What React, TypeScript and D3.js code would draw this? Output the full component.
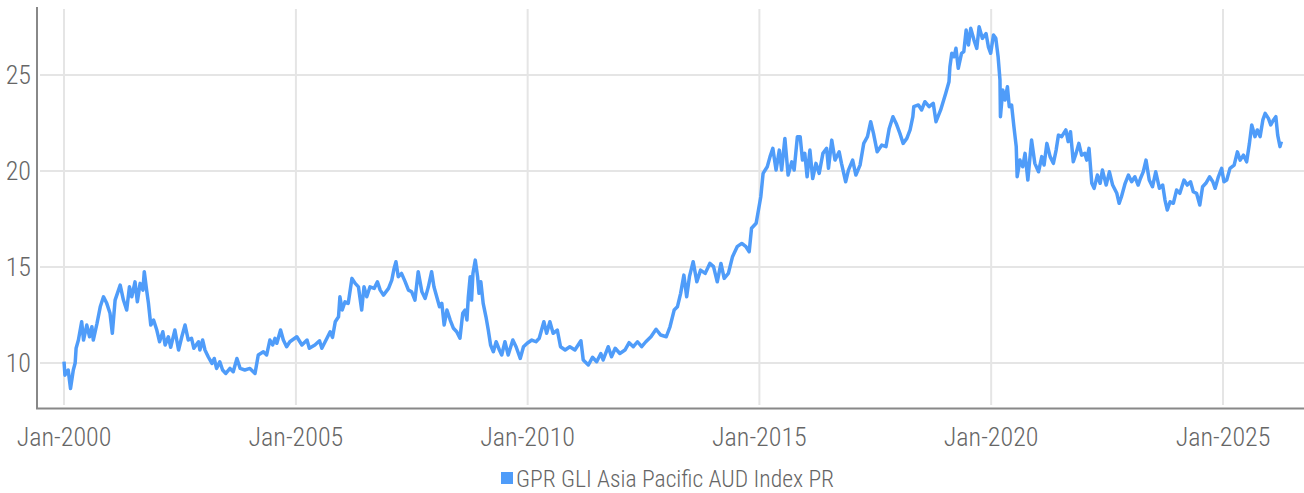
import React from "react";
import * as d3 from "d3";

// Decimal year, index value
const years2000s: number[] = [2000.0,2000.02,2000.09,2000.14,2000.2,2000.24,2000.26,2000.31,2000.38,2000.42,2000.49,2000.55,2000.6,2000.63,2000.71,2000.78,2000.85,2000.92,2000.99,2001.04,2001.1,2001.21,2001.28,2001.35,2001.41,2001.46,2001.53,2001.58,2001.64,2001.7,2001.73,2001.78,2001.82,2001.87,2001.93,2002.0,2002.06,2002.13,2002.18,2002.25,2002.3,2002.39,2002.47,2002.54,2002.61,2002.68,2002.75,2002.8,2002.9,2002.93,2002.99,2003.04,2003.11,2003.19,2003.24,2003.29,2003.36,2003.42,2003.49,2003.58,2003.65,2003.73,2003.8,2003.9,2004.01,2004.12,2004.19,2004.3,2004.37,2004.44,2004.5,2004.55,2004.59,2004.67,2004.73,2004.8,2004.87,2005.02];
const values2000s: number[] = [10.07,9.37,9.64,8.68,9.64,10.0,10.77,11.2,12.15,11.2,11.98,11.37,11.89,11.2,12.07,12.93,13.45,13.11,12.59,11.55,13.28,14.06,13.28,12.76,13.97,13.45,14.23,13.19,14.15,13.8,14.76,13.8,13.11,11.98,12.24,11.72,11.11,11.63,10.94,11.37,10.82,11.72,10.68,11.37,11.98,11.2,11.29,10.77,11.11,10.68,11.2,10.68,10.33,9.98,10.24,9.72,10.07,9.64,9.46,9.72,9.55,10.24,9.72,9.64,9.72,9.46,10.42,10.59,10.42,11.2,10.94,11.29,11.03,11.72,11.2,10.85,11.11,11.37];

const years2005s: number[] = [2005.13,2005.24,2005.29,2005.41,2005.51,2005.56,2005.67,2005.74,2005.79,2005.85,2005.92,2005.95,2006.0,2006.06,2006.13,2006.21,2006.28,2006.35,2006.42,2006.47,2006.53,2006.6,2006.69,2006.76,2006.82,2006.89,2007.0,2007.07,2007.12,2007.16,2007.21,2007.28,2007.36,2007.43,2007.5,2007.57,2007.64,2007.72,2007.79,2007.86,2007.93,2007.98,2008.04,2008.1,2008.15,2008.2,2008.26,2008.33,2008.4,2008.47,2008.54,2008.6,2008.65,2008.69,2008.72,2008.76,2008.79,2008.82,2008.87,2008.92,2008.95,2008.99,2009.04,2009.1,2009.15,2009.2,2009.26,2009.32,2009.39,2009.44,2009.51,2009.58,2009.68,2009.75,2009.84,2009.91,2009.99];
const values2005s: number[] = [10.94,11.2,10.77,10.94,11.16,10.77,11.29,11.63,11.34,12.15,12.41,13.45,12.76,13.19,13.11,14.41,14.15,13.97,12.76,13.97,13.45,13.97,13.89,14.23,13.8,13.54,13.89,14.32,14.93,15.28,14.5,14.67,14.23,13.8,13.71,13.28,14.76,13.71,13.37,13.97,14.76,13.97,13.45,12.93,13.11,11.98,12.76,12.24,11.81,11.63,11.29,12.59,12.76,12.24,13.45,14.5,13.28,14.67,15.36,14.5,13.63,14.23,13.11,12.41,11.72,10.94,10.59,11.11,10.68,10.42,11.11,10.42,11.2,10.85,10.24,10.85,11.03];

const years2010s: number[] = [2010.09,2010.18,2010.25,2010.35,2010.41,2010.48,2010.55,2010.64,2010.71,2010.81,2010.91,2011.02,2011.15,2011.2,2011.31,2011.4,2011.49,2011.58,2011.63,2011.74,2011.81,2011.89,2011.99,2012.1,2012.19,2012.28,2012.37,2012.46,2012.55,2012.66,2012.77,2012.87,2012.99,2013.07,2013.16,2013.23,2013.3,2013.37,2013.43,2013.49,2013.57,2013.65,2013.73,2013.83,2013.93,2014.01,2014.09,2014.17,2014.24,2014.33,2014.42,2014.52,2014.62,2014.71,2014.78,2014.83,2014.93,2014.98];
const values2010s: number[] = [11.2,11.11,11.29,12.15,11.55,12.15,11.55,11.72,10.85,10.68,10.85,10.68,11.16,10.16,9.9,10.3,10.07,10.5,10.16,10.85,10.33,10.77,10.5,10.68,11.06,10.85,11.11,10.85,11.11,11.37,11.76,11.46,11.37,11.89,12.76,12.93,13.63,14.58,13.45,14.5,15.28,14.23,14.84,14.67,15.19,15.02,14.23,15.19,14.41,14.67,15.54,16.06,16.23,16.06,15.8,17.02,17.28,17.97];

const years2015s: number[] = [2015.03,2015.08,2015.17,2015.23,2015.29,2015.36,2015.43,2015.48,2015.55,2015.62,2015.7,2015.75,2015.82,2015.88,2015.93,2015.98,2016.03,2016.09,2016.15,2016.22,2016.29,2016.37,2016.45,2016.49,2016.56,2016.63,2016.72,2016.77,2016.86,2016.92,2017.01,2017.08,2017.17,2017.25,2017.33,2017.4,2017.46,2017.54,2017.64,2017.73,2017.8,2017.88,2017.95,2018.03,2018.1,2018.18,2018.25,2018.31,2018.33,2018.43,2018.5,2018.57,2018.66,2018.75,2018.81,2018.91,2019.02,2019.09,2019.11,2019.15,2019.2,2019.24,2019.29,2019.36,2019.41,2019.46,2019.51,2019.56,2019.63,2019.69,2019.74,2019.81,2019.89,2019.94,2019.99];
const values2015s: number[] = [18.66,19.88,20.22,20.75,21.18,20.05,21.09,20.05,21.7,19.79,20.48,20.05,21.79,21.79,20.57,20.92,19.7,21.09,19.61,20.4,19.88,20.92,21.18,20.14,21.61,20.57,21.0,20.4,19.44,20.05,20.57,19.79,20.31,21.44,21.79,22.57,21.96,21.0,21.35,21.27,22.22,22.83,22.48,21.96,21.44,21.7,22.14,22.83,23.35,23.44,23.18,23.61,23.35,23.53,22.57,23.18,24.05,24.65,25.43,26.13,25.95,26.39,25.35,26.13,26.22,27.34,26.56,27.43,26.82,26.39,27.51,26.91,27.16,26.47,26.13];

const years2020s: number[] = [2020.05,2020.1,2020.15,2020.19,2020.2,2020.25,2020.3,2020.35,2020.39,2020.44,2020.49,2020.54,2020.56,2020.62,2020.68,2020.73,2020.79,2020.87,2020.94,2021.02,2021.09,2021.14,2021.2,2021.27,2021.34,2021.4,2021.45,2021.52,2021.61,2021.66,2021.71,2021.77,2021.83,2021.89,2021.95,2022.02,2022.06,2022.11,2022.17,2022.22,2022.29,2022.35,2022.4,2022.48,2022.55,2022.62,2022.71,2022.76,2022.81,2022.89,2022.96,2023.03,2023.1,2023.17,2023.22,2023.28,2023.34,2023.41,2023.48,2023.55,2023.63,2023.7,2023.75,2023.8,2023.86,2023.93,2024.0,2024.07,2024.16,2024.23,2024.3,2024.36,2024.43,2024.5,2024.56,2024.63,2024.71,2024.78,2024.83,2024.9,2024.97];
const values2020s: number[] = [27.08,26.91,25.95,24.74,22.83,24.22,23.7,24.39,23.35,23.44,22.31,21.27,19.7,20.57,20.22,20.92,19.53,21.61,20.4,19.96,20.75,20.31,21.44,20.75,20.4,21.09,21.87,21.79,22.14,21.53,22.05,20.48,20.92,21.44,20.83,20.92,20.57,21.18,19.36,19.1,19.79,19.36,20.05,19.27,19.96,19.27,18.84,18.32,18.66,19.36,19.79,19.44,19.7,19.27,19.61,19.96,20.57,19.53,19.18,19.96,19.1,19.27,18.49,17.97,18.4,18.32,19.01,18.84,19.53,19.27,19.44,18.92,18.84,18.23,19.18,19.36,19.7,19.44,19.1,19.7,20.14];

const years2025s: number[] = [2025.02,2025.08,2025.15,2025.24,2025.31,2025.37,2025.44,2025.51,2025.57,2025.62,2025.69,2025.74,2025.8,2025.86,2025.91,2025.98,2026.03,2026.09,2026.14,2026.18,2026.23,2026.26];
const values2025s: number[] = [19.44,19.53,20.14,20.31,21.0,20.57,20.83,20.48,21.44,22.4,21.79,22.14,21.79,22.66,23.0,22.74,22.4,22.66,22.83,21.87,21.27,21.53];

const yTicks: number[] = [10, 15, 20, 25];
const xTickYears: number[] = [2000, 2005, 2010, 2015, 2020, 2025];
const seriesName = "GPR GLI Asia Pacific AUD Index PR";

const toDate = (y: number) => {
  const yr = Math.floor(y);
  const start = Date.UTC(yr, 0, 1);
  const end = Date.UTC(yr + 1, 0, 1);
  return new Date(start + (y - yr) * (end - start));
};

const allYears = [...years2000s, ...years2005s, ...years2010s, ...years2015s, ...years2020s, ...years2025s];
const allValues = [...values2000s, ...values2005s, ...values2010s, ...values2015s, ...values2020s, ...values2025s];
const data = allYears.map((y, i) => ({ date: toDate(y), value: allValues[i] }));

const W = 1304, H = 493;
const FONT = "'Roboto Condensed', 'Liberation Sans Narrow', 'DejaVu Sans Condensed', Roboto, sans-serif";

export default function App() {
  const x = d3.scaleUtc()
    .domain([new Date(Date.UTC(1999, 5, 10)), new Date(Date.UTC(2026, 9, 1))])
    .range([38, 1304]);
  const y = d3.scaleLinear().domain([7.66, 28.49]).range([408, 8]);
  const line = d3.line<{ date: Date; value: number }>()
    .x(d => x(d.date))
    .y(d => y(d.value));
  const fmt = d3.utcFormat("%b-%Y");

  return (
    <svg width={W} height={H} style={{ position: "absolute", left: 0, top: 0 }} fontFamily={FONT}>
      <rect width={W} height={H} fill="#fff" />
      {yTicks.map(t => (
        <line key={"hy" + t} x1={40} x2={1304} y1={y(t)} y2={y(t)} stroke="#e5e5e5" strokeWidth={2} />
      ))}
      {xTickYears.map(t => {
        const xx = x(new Date(Date.UTC(t, 0, 1)));
        return <line key={"vx" + t} x1={xx} x2={xx} y1={9} y2={405} stroke="#e5e5e5" strokeWidth={2} />;
      })}
      <path d={line(data) || ""} fill="none" stroke="#4f9cf9" strokeWidth={3.5} strokeLinejoin="round" />
      <line x1={37} x2={37} y1={7} y2={408} stroke="#888" strokeWidth={2} />
      <line x1={36} x2={1304} y1={408.5} y2={408.5} stroke="#888" strokeWidth={2} />
      {yTicks.map(t => (
        <text key={"ly" + t} x={31} y={y(t)} dy="0.36em" textAnchor="end" fontSize={26} fontWeight={300} fill="#666">{t}</text>
      ))}
      {xTickYears.map(t => {
        const dt = new Date(Date.UTC(t, 0, 1));
        return <text key={"lx" + t} x={x(dt)} y={446} textAnchor="middle" fontSize={26} fontWeight={300} fill="#666">{fmt(dt)}</text>;
      })}
      <rect x={501} y={472} width={12} height={12} fill="#4f9cf9" />
      <text x={516} y={487} fontSize={23.6} fontWeight={300} fill="#666">{seriesName}</text>
    </svg>
  );
}
